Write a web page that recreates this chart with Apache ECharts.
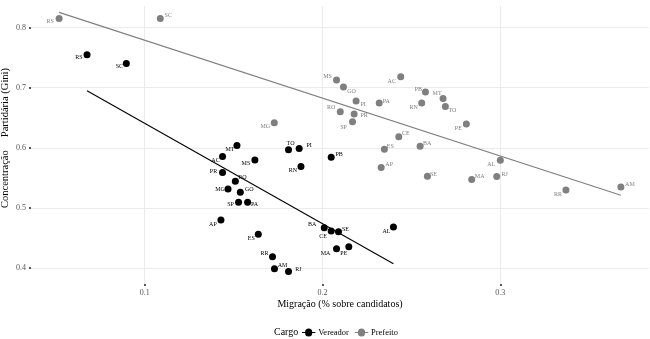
<!DOCTYPE html>
<html>
<head>
<meta charset="utf-8">
<script src="https://cdn.jsdelivr.net/npm/echarts@6/dist/echarts.min.js"></script>
<style>
html, body { margin: 0; padding: 0; background: #fff; }
#chart { width: 650px; height: 339px; }
</style>
</head>
<body>
<div id="chart"></div>
<script>
// dados
const vereadorUF = ['RS', 'SC', 'MT', 'TO', 'PI', 'AC', 'MS', 'PB', 'RN', 'PR', 'RO', 'MG', 'GO',
    'SP', 'PA', 'AP', 'BA', 'CE', 'SE', 'AL', 'ES', 'MA', 'PE', 'RR', 'AM', 'RJ']
const vereadorMigracao = [0.0676, 0.0897, 0.1519, 0.1809, 0.1869, 0.1438, 0.1620, 0.2049, 0.1879, 0.1438, 0.1510, 0.1469, 0.1538,
    0.1528, 0.1579, 0.1429, 0.2010, 0.2049, 0.2090, 0.2399, 0.1639, 0.2079, 0.2148, 0.1719, 0.1730, 0.1809]
const vereadorGini = [0.755, 0.7405, 0.6038, 0.5967, 0.5988, 0.5855, 0.580, 0.5845, 0.5688, 0.5588, 0.5445, 0.5317, 0.5262,
    0.5095, 0.5095, 0.480, 0.4672, 0.4617, 0.4605, 0.4683, 0.4562, 0.4322, 0.4355, 0.4188, 0.3988, 0.3945]

const prefeitoUF = ['RS', 'SC', 'MS', 'GO', 'PI', 'PA', 'RO', 'PR', 'SP', 'MG', 'ES', 'AP', 'AC',
    'PB', 'MT', 'RN', 'TO', 'PE', 'CE', 'BA', 'AL', 'SE', 'MA', 'RJ', 'RR', 'AM']
const prefeitoMigracao = [0.0519, 0.1088, 0.2079, 0.2118, 0.2189, 0.2319, 0.2100, 0.2178, 0.2169, 0.1729, 0.2348, 0.2330, 0.2440,
    0.2579, 0.2678, 0.2558, 0.2691, 0.2809, 0.2429, 0.2549, 0.3000, 0.2590, 0.2839, 0.2980, 0.3369, 0.3678]
const prefeitoGini = [0.815, 0.815, 0.7128, 0.7012, 0.6778, 0.6745, 0.660, 0.6562, 0.6433, 0.6417, 0.5978, 0.5672, 0.7183,
    0.6928, 0.6822, 0.6745, 0.6688, 0.6395, 0.6183, 0.6028, 0.5795, 0.5528, 0.5472, 0.5522, 0.530, 0.535]

const xTicks = [0.1, 0.2, 0.3]
const yTicks = [0.4, 0.5, 0.6, 0.7, 0.8]

// deslocamento dos rótulos (px), estilo tipo ggrepel
const offV = {
    RS: [-8, 3], SC: [-7, 3], MT: [-7, 4], TO: [2, -6], PI: [10, -3], AC: [-7, 4], MS: [-9, 4],
    PB: [8, -3], RN: [-8, 4], PR: [-9, -1], RO: [7, -4], MG: [-8, 1], GO: [9, -3], SP: [-8, 2],
    PA: [7, 2], AP: [-8, 4], BA: [-12, -3], CE: [-8, 5], SE: [7, -2], AL: [-7, 4], ES: [-7, 4],
    MA: [-11, 5], PE: [-5, 7], RR: [-8, -3], AM: [8, -3], RJ: [10, -2]
}
const offP = {
    RS: [-9, 3], SC: [8, -3], MS: [-9, -4], GO: [8, 4], PI: [7, 3], PA: [7, -2], RO: [-9, -4],
    PR: [10, 1], SP: [-9, 6], MG: [-9, 4], ES: [6, -3], AP: [8, -3], AC: [-9, 5], PB: [-7, -3],
    MT: [-6, -5], RN: [-8, 4], TO: [7, 4], PE: [-8, 4], CE: [7, -3], BA: [7, -3], AL: [-9, 4],
    SE: [6, -2], MA: [8, -3], RJ: [8, -2], RR: [-8, 4], AM: [9, -3]
}

const FONT = 'Liberation Serif'
const BLACK = '#000000'
const GREY = '#7f7f7f'

function points(ufs, xs, ys, offs) {
    return ufs.map((uf, i) => ({
        value: [xs[i], ys[i]],
        name: uf,
        label: { offset: offs[uf] || [0, 0] }
    }))
}

// reta de mínimos quadrados (geom_smooth lm)
function fitLine(xs, ys) {
    const n = xs.length
    const mx = xs.reduce((a, b) => a + b, 0) / n
    const my = ys.reduce((a, b) => a + b, 0) / n
    let sxy = 0, sxx = 0
    for (let i = 0; i < n; i++) {
        sxy += (xs[i] - mx) * (ys[i] - my)
        sxx += (xs[i] - mx) * (xs[i] - mx)
    }
    const b = sxy / sxx
    const a = my - b * mx
    const x0 = Math.min(...xs), x1 = Math.max(...xs)
    return [[x0, a + b * x0], [x1, a + b * x1]]
}

const legendIcon = 'path://M0,3.5 L3.5,3.5 A4,4 0 0 1 11.5,3.5 L15,3.5 L15,4.5 L11.5,4.5 A4,4 0 0 1 3.5,4.5 L0,4.5 Z'

function scatter(name, color, data) {
    return {
        name,
        type: 'scatter',
        symbolSize: 7,
        itemStyle: { color, opacity: 1 },
        label: {
            show: true,
            position: 'inside',
            formatter: '{b}',
            color,
            fontFamily: FONT,
            fontSize: 6
        },
        emphasis: { disabled: true },
        data,
        z: 3
    }
}

function trend(name, color, data) {
    return {
        name,
        type: 'line',
        symbol: 'none',
        lineStyle: { color, width: 1.1 },
        data,
        silent: true,
        z: 2
    }
}

const chart = echarts.init(document.getElementById('chart'), null, { renderer: 'canvas' })
chart.setOption({
    animation: false,
    textStyle: { fontFamily: FONT },
    grid: { left: 31, right: 1, top: 6, bottom: 55, containLabel: false, outerBoundsMode: 'none' },
    xAxis: {
        type: 'value',
        min: 0.0361,
        max: 0.3836,
        name: 'Migração (% sobre candidatos)',
        nameLocation: 'middle',
        nameGap: 15,
        nameMoveOverlap: false,
        nameTextStyle: { color: '#000', fontSize: 10, fontFamily: FONT },
        axisLine: { show: false },
        axisTick: { show: true, length: 2, lineStyle: { color: '#222', width: 1.5 }, customValues: xTicks },
        axisLabel: { customValues: xTicks, color: '#555', fontSize: 8, margin: 5, fontFamily: FONT,
            formatter: v => v.toFixed(1) },
        splitLine: { show: true, lineStyle: { color: '#ebebeb', width: 1 } }
    },
    yAxis: {
        type: 'value',
        min: 0.3735,
        max: 0.836,
        name: 'Concentração     Partidária (Gini)',
        nameLocation: 'middle',
        nameGap: 20,
        nameMoveOverlap: false,
        nameTextStyle: { color: '#000', fontSize: 10.5, fontFamily: FONT, padding: [0, 0, 0, 14] },
        axisLine: { show: false },
        axisTick: { show: true, length: 2, lineStyle: { color: '#222', width: 1.5 }, customValues: yTicks },
        axisLabel: { customValues: yTicks, color: '#555', fontSize: 8, margin: 5, fontFamily: FONT,
            formatter: v => v.toFixed(1) },
        splitLine: { show: true, lineStyle: { color: '#ebebeb', width: 1 } }
    },
    legend: {
        data: ['Vereador', 'Prefeito'],
        left: 302,
        top: 328,
        padding: 0,
        itemWidth: 15,
        itemHeight: 8,
        itemGap: 6,
        icon: legendIcon,
        textStyle: { color: '#000', fontSize: 8.5, fontFamily: FONT, padding: [0, 0, 0, -3] }
    },
    graphic: [{
        type: 'text',
        left: 274,
        top: 327,
        style: { text: 'Cargo', fill: '#000', font: '10px "Liberation Serif"' }
    }],
    series: [
        trend('ajuste Vereador', BLACK, fitLine(vereadorMigracao, vereadorGini)),
        trend('ajuste Prefeito', GREY, fitLine(prefeitoMigracao, prefeitoGini)),
        scatter('Vereador', BLACK, points(vereadorUF, vereadorMigracao, vereadorGini, offV)),
        scatter('Prefeito', GREY, points(prefeitoUF, prefeitoMigracao, prefeitoGini, offP))
    ]
})
</script>
</body>
</html>
